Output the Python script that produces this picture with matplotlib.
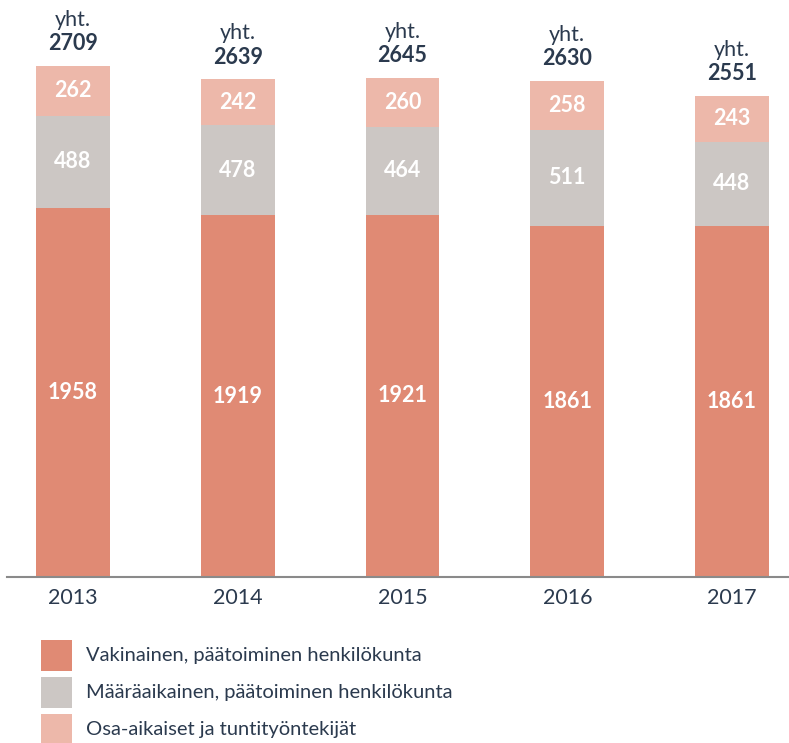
import matplotlib
matplotlib.use("Agg")
import matplotlib.pyplot as plt
from matplotlib.patches import Rectangle

years = ["2013", "2014", "2015", "2016", "2017"]
vakinainen = [1958, 1919, 1921, 1861, 1861]
maaraaikainen = [488, 478, 464, 511, 448]
osa_aikaiset = [262, 242, 260, 258, 243]
totals = [2709, 2639, 2645, 2630, 2551]
series_names = ["Vakinainen, päätoiminen henkilökunta",
                "Määräaikainen, päätoiminen henkilökunta",
                "Osa-aikaiset ja tuntityöntekijät"]

c_vak = "#E08A74"
c_maa = "#CCC7C4"
c_osa = "#EDB8AA"
txt = "#2B3A4E"
plt.rcParams['font.family'] = ['Lato', 'DejaVu Sans']

W, H = 789, 743
fig = plt.figure(figsize=(W/100, H/100), dpi=100)
ax = fig.add_axes([7/W, (H-577)/H, (789-7)/W, 577/H])

x = list(range(len(years)))
width = 0.449
colors = [c_vak, c_maa, c_osa]
data = [vakinainen, maaraaikainen, osa_aikaiset]
bottoms = [0]*len(years)
for vals, col in zip(data, colors):
    ax.bar(x, vals, width, bottom=bottoms, color=col, linewidth=0)
    for xi, v, b in zip(x, vals, bottoms):
        ax.text(xi, b + v/2, str(v), ha='center', va='center', color='white',
                fontsize=15.5, fontweight='bold')
    bottoms = [b + v for b, v in zip(bottoms, vals)]

for xi, t in zip(x, totals):
    ax.annotate(str(t), (xi, t), xytext=(0, 16), textcoords='offset points',
                ha='center', va='center', fontsize=15.5, fontweight='bold',
                color=txt, annotation_clip=False)
    ax.annotate("yht.", (xi, t), xytext=(0, 33), textcoords='offset points',
                ha='center', va='center', fontsize=15.5, color=txt,
                annotation_clip=False)

ax.set_xlim((7-73)/164.75, (789-73)/164.75)
ax.set_ylim(0, 577/0.1886)
ax.set_xticks(x)
ax.set_xticklabels(years, fontsize=15.5, color=txt)
ax.tick_params(axis='x', length=0, pad=8)
ax.set_yticks([])
for s in ['top', 'right', 'left']:
    ax.spines[s].set_visible(False)
ax.spines['bottom'].set_color('#8A8A8A')
ax.spines['bottom'].set_linewidth(1.5)
ax.patch.set_alpha(0)

# legend
leg_tops = [640, 677, 714]
for top, name, col in zip(leg_tops, series_names, colors):
    fig.patches.append(Rectangle((41/W, (H-top-31)/H), 31/W, 31/H,
                                 transform=fig.transFigure, color=col, linewidth=0))
    fig.text(86/W, (H-top-15.5)/H, name, ha='left', va='center', fontsize=14.5,
             color=txt)

fig.savefig("out.png", dpi=100)
